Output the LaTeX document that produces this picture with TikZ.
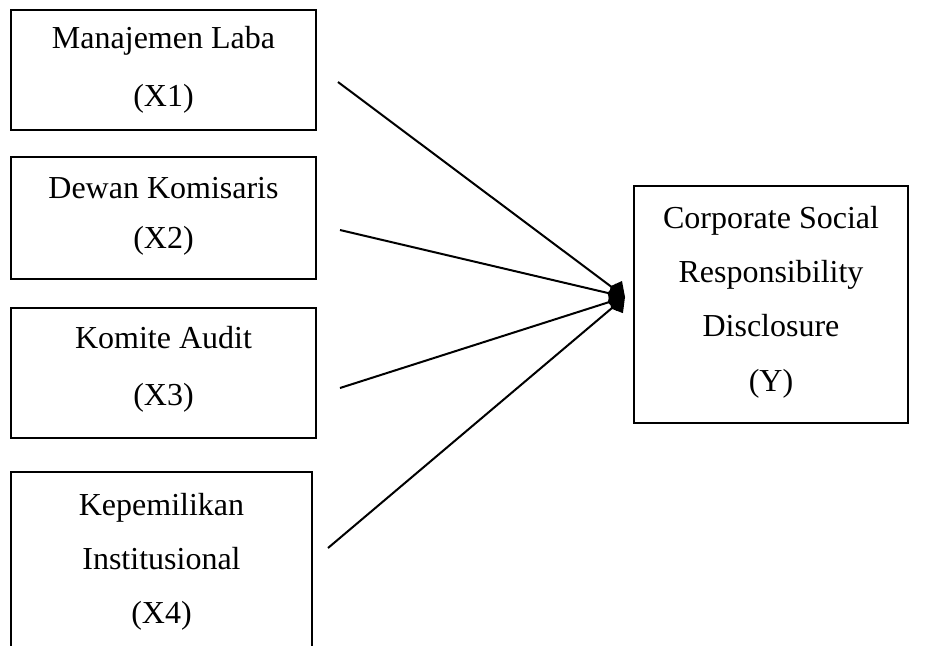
\documentclass[tikz,border=0pt]{standalone}
\usepackage{fontspec}
\setmainfont{Liberation Serif}
\usetikzlibrary{arrows.meta}

% extra depth below the last line, lifts the text in its box
\newcommand{\liftby}[1]{\rule[-#1]{0pt}{0pt}}

\begin{document}
\begin{tikzpicture}[x=0.5pt, y=-0.5pt,
    var/.style={draw, line width=0.8pt, align=center, inner sep=0pt},
    lines/.style={font=\fontsize{16}{#1}\selectfont},
    link/.style={line width=1pt, -{Kite[length=9pt, width=11pt, inset=3pt]}}]
  \useasboundingbox (0,0) rectangle (933,645);
  % independent variables
  \node[var, lines=29pt, minimum width=152.5pt, minimum height=60pt] (x1) at (163.5,70) {Manajemen Laba\\(X1)};
  \node[var, lines=25pt, minimum width=152.5pt, minimum height=61pt] (x2) at (163.5,218) {Dewan Komisaris\\(X2)\liftby{5pt}};
  \node[var, lines=28.5pt, minimum width=152.5pt, minimum height=65pt] (x3) at (163.5,373) {Komite Audit\\(X3)\liftby{7pt}};
  \node[var, lines=27pt, minimum width=150.5pt, minimum height=90pt] (x4) at (161.5,562) {Kepemilikan\\Institusional\\(X4)\liftby{3pt}};
  % dependent variable
  \node[var, lines=27.2pt, minimum width=137pt, minimum height=118.5pt] (y) at (771,304.5) {Corporate Social\\Responsibility\\Disclosure\\(Y)\liftby{6pt}};
  % arrows
  \coordinate (s1) at (338,82);
  \coordinate (s2) at (340,230);
  \coordinate (s3) at (340,388);
  \coordinate (s4) at (328,548);
  \coordinate (t) at (625,297);
  \foreach \s in {s1,s2,s3,s4}
    \draw[link] (\s) -- (t);
\end{tikzpicture}
\end{document}
